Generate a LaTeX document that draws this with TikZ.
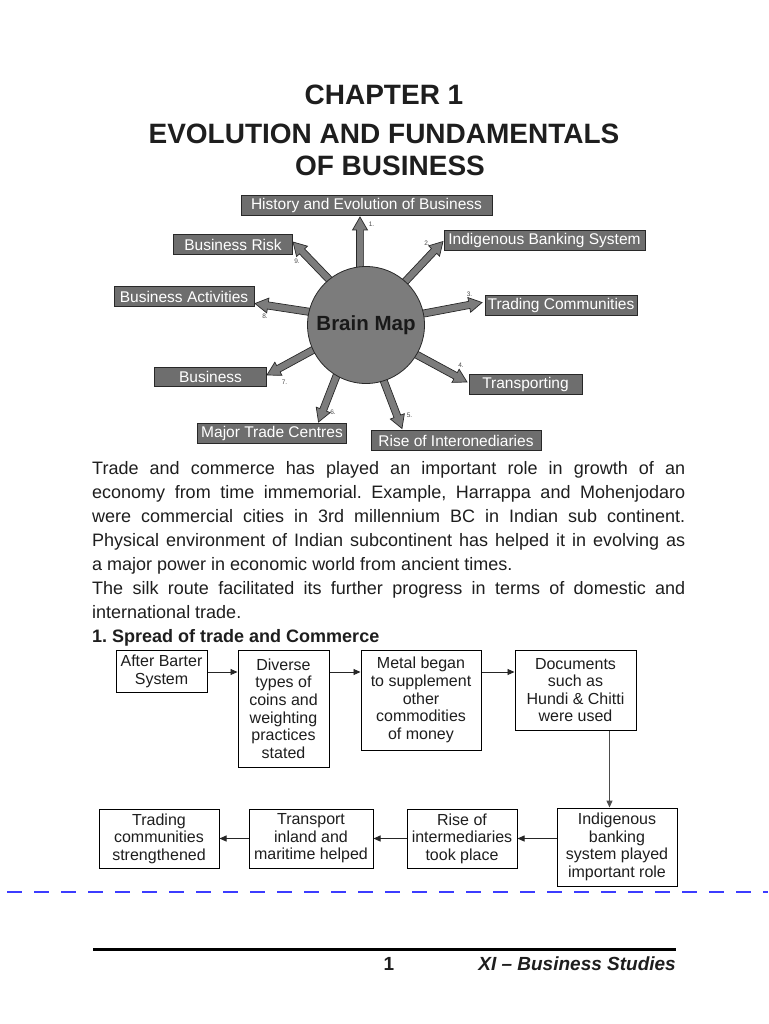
\documentclass[tikz,border=0pt]{standalone}
\usepackage{fontspec}
\setmainfont{Liberation Sans}
\usetikzlibrary{calc,arrows.meta,shadows}
\frenchspacing
\definecolor{boxgray}{RGB}{110,110,110}
\definecolor{circgray}{RGB}{124,124,124}
\definecolor{edgegray}{RGB}{40,40,40}
\definecolor{dashblue}{RGB}{60,60,255}
\definecolor{textblack}{RGB}{30,30,30}
\newcommand\fsz[2]{\fontsize{#1}{#2}\selectfont}
\newcommand\blockarr[2]{%
  \coordinate (hb) at ($(#2)!13pt!(#1)$);
  \filldraw[arrowbody] ($(#1)!3.6pt!90:(#2)$) -- ($(hb)!3.6pt!90:(#2)$) -- ($(hb)!7.5pt!90:(#2)$)
    -- (#2) -- ($(hb)!7.5pt!-90:(#2)$) -- ($(hb)!3.6pt!-90:(#2)$) -- ($(#1)!3.6pt!-90:(#2)$) -- cycle;
}
\tikzset{
  lbl/.style={draw=edgegray, fill=boxgray, line width=0.8pt, text=white, font=\fsz{15.5}{18},
    minimum height=19.5pt, inner sep=0pt},
  num/.style={font=\fsz{6.5}{7}, text=black!70, inner sep=0pt},
  fbox/.style={draw=black, line width=1pt, fill=white, align=center, font=\fsz{16}{17.6},
    inner sep=0pt, text=textblack, general shadow={fill=black!80, shadow xshift=0.9pt, shadow yshift=-0.9pt}},
  flow/.style={line width=0.9pt, draw=black!85, -{Triangle[length=7pt,width=6pt]}},
  body/.style={anchor=base west, inner sep=0pt, font=\fsz{18}{24}, text=textblack},
  ttl/.style={anchor=base, inner sep=0pt, font=\bfseries\fsz{28}{30}, text=textblack},
  arrowbody/.style={fill=circgray, draw=edgegray, line width=0.7pt, line join=miter},
}
\begin{document}
\begin{tikzpicture}[x=1pt,y=-1pt]
\fill[white] (0,0) rectangle (768,1024);
\useasboundingbox (0,0) rectangle (768,1024);

% Title
\node[ttl] (title1) at (384,105) {CHAPTER 1};
\node[ttl] (title2) at (384,144) {EVOLUTION AND FUNDAMENTALS};
\node[ttl] (title3) at (390,176) {OF BUSINESS};

% Brain map labels
\node[lbl, minimum width=251pt] (l1) at (366.5,205.5) {History and Evolution of Business};
\node[lbl, minimum width=201pt] (l2) at (544.5,240.5) {Indigenous Banking System};
\node[lbl, minimum width=152pt] (l3) at (561,305.5) {Trading Communities};
\node[lbl, minimum width=113pt] (l4) at (525.5,384.5) {Transporting};
\node[lbl, minimum width=170pt] (l5) at (456,440.5) {Rise of Interonediaries};
\node[lbl, minimum width=149pt] (l6) at (272,433.5) {Major Trade Centres};
\node[lbl, minimum width=112pt] (l7) at (210.5,377) {Business};
\node[lbl, minimum width=140pt] (l8) at (184,296.5) {Business Activities};
\node[lbl, minimum width=119pt] (l9) at (233,244.5) {Business Risk};

% arrow start (inside circle) and tip coordinates
\coordinate (bmc) at (366,325);
\coordinate (s1) at (360,300);  \coordinate (t1) at (360,217);
\coordinate (s2) at (385,303);  \coordinate (t2) at (443,241.5);
\coordinate (s3) at (400,318);  \coordinate (t3) at (482,302.5);
\coordinate (s4) at (395,343);  \coordinate (t4) at (467,382);
\coordinate (s5) at (375,358);  \coordinate (t5) at (402,428.5);
\coordinate (s6) at (345,354);  \coordinate (t6) at (318.5,422);
\coordinate (s7) at (335,338);  \coordinate (t7) at (267,375);
\coordinate (s8) at (330,315);  \coordinate (t8) at (255,303.5);
\coordinate (s9) at (345,296);  \coordinate (t9) at (293,242);
\blockarr{s1}{t1}
\blockarr{s2}{t2}
\blockarr{s3}{t3}
\blockarr{s4}{t4}
\blockarr{s5}{t5}
\blockarr{s6}{t6}
\blockarr{s7}{t7}
\blockarr{s8}{t8}
\blockarr{s9}{t9}

\node[circle, draw=edgegray, fill=circgray, line width=0.8pt, minimum size=117pt, inner sep=0pt,
  font=\bfseries\fsz{20.5}{22}, text=black!90] (bm) at (bmc) {Brain Map};

% numbers
\node[num] (n1) at (371.5,224) {1.};
\node[num] (n2) at (427,243) {2.};
\node[num] (n3) at (469.5,294) {3.};
\node[num] (n4) at (461,365) {4.};
\node[num] (n5) at (409.5,415.5) {5.};
\node[num] (n6) at (333,412.5) {6.};
\node[num] (n7) at (284.5,382) {7.};
\node[num] (n8) at (265,316) {8.};
\node[num] (n9) at (297,261.5) {9.};

% Body text
\node[body] (p1) at (92,474) {\makebox[593pt][s]{Trade and commerce has played an important role in growth of an}};
\node[body] (p2) at (92,498) {\makebox[593pt][s]{economy from time immemorial. Example, Harrappa and Mohenjodaro}};
\node[body] (p3) at (92,522) {\makebox[593pt][s]{were commercial cities in 3rd millennium BC in Indian sub continent.}};
\node[body] (p4) at (92,546) {\makebox[593pt][s]{Physical environment of Indian subcontinent has helped it in evolving as}};
\node[body] (p5) at (92,570) {a major power in economic world from ancient times.};
\node[body] (p6) at (92,594) {\makebox[593pt][s]{The silk route facilitated its further progress in terms of domestic and}};
\node[body] (p7) at (92,618) {international trade.};
\node[body, font=\bfseries\fsz{18}{24}] (h1) at (92,642) {1. Spread of trade and Commerce};

% Flowchart
\node[fbox, minimum width=91pt, minimum height=42pt] (A) at (161.5,671.5) {After Barter\\System};
\node[fbox, minimum width=91pt, minimum height=117pt] (B) at (283.5,708.5) {Diverse\\types of\\coins and\\weighting\\practices\\stated};
\node[fbox, minimum width=120pt, minimum height=100pt] (C) at (421,700) {Metal began\\to supplement\\other\\commodities\\of money};
\node[fbox, minimum width=121pt, minimum height=80pt] (D) at (575.5,690) {Documents\\such as\\Hundi \& Chitti\\were used};
\node[fbox, minimum width=120pt, minimum height=78pt] (E) at (617,847) {Indigenous\\banking\\system played\\important role};
\node[fbox, minimum width=110pt, minimum height=59pt] (F) at (462,838.5) {Rise of\\intermediaries\\took place};
\node[fbox, minimum width=124pt, minimum height=59pt] (G) at (311,838.5) {Transport\\inland and\\maritime helped};
\node[fbox, minimum width=120pt, minimum height=59pt] (H) at (159,838.5) {Trading\\communities\\strengthened};

\draw[flow] ([yshift=-0.5pt]A.east) -- ([yshift=-0.5pt]A.east -| B.west);
\draw[flow] ([yshift=-0.5pt]A.east -| B.east) -- ([yshift=-0.5pt]A.east -| C.west);
\draw[flow] ([yshift=-0.5pt]A.east -| C.east) -- ([yshift=-0.5pt]A.east -| D.west);
\draw[flow, line width=1.3pt, draw=black!70] ([xshift=34pt]D.south) -- ([xshift=-7.5pt]E.north);
\draw[flow] (F.east -| E.west) -- (F.east);
\draw[flow] (F.west) -- (G.east);
\draw[flow] (G.west) -- (H.east);

% dashed separator
\draw[dashblue, line width=2pt, dash pattern=on 15pt off 12pt] (7,891.5) -- (768,891.5);

% Footer
\draw[line width=3pt, black] (93,949) -- (676,949);
\node[anchor=base, inner sep=0pt, font=\bfseries\fsz{19}{21}, text=textblack] (pg) at (389,970) {1};
\node[anchor=base east, inner sep=0pt, font=\bfseries\itshape\fsz{19}{21}, text=textblack] (ft) at (676,970) {XI -- Business Studies};
\end{tikzpicture}
\end{document}
